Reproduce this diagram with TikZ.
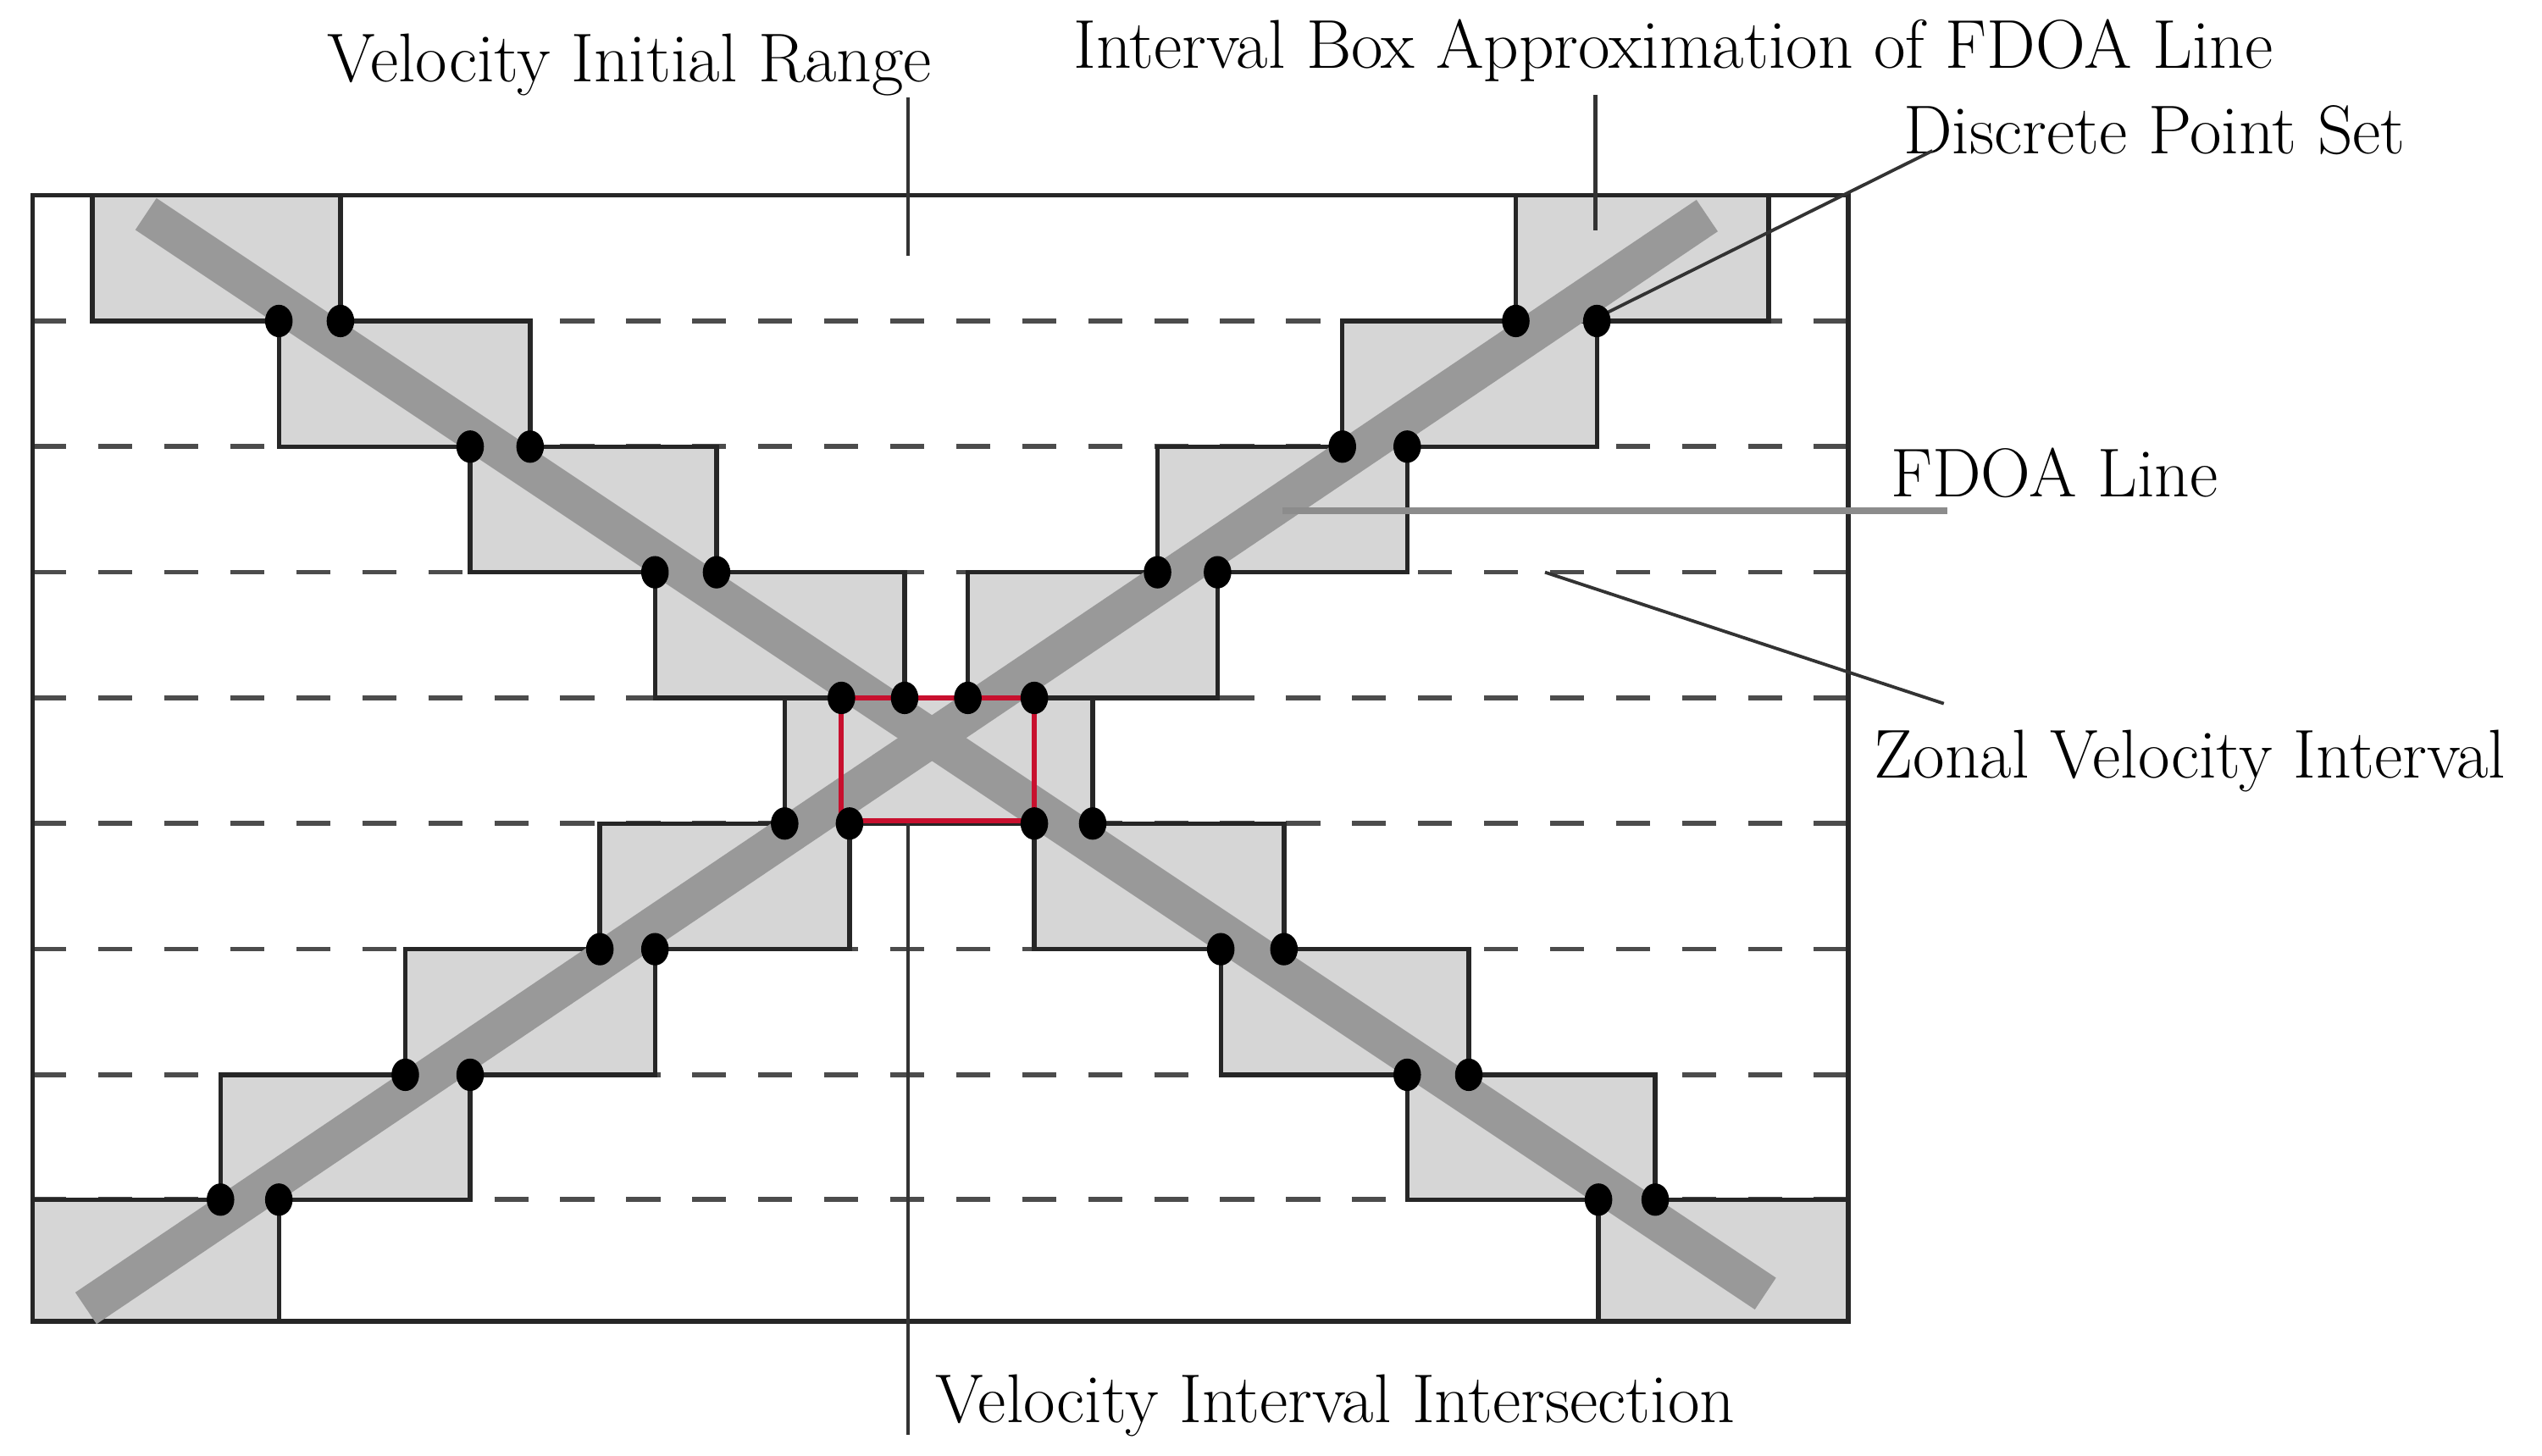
\documentclass[tikz,border=0pt]{standalone}
\usepackage{fontspec}
\definecolor{boxfill}{HTML}{D6D6D6}
\definecolor{bandgray}{HTML}{999999}
\definecolor{redbox}{HTML}{C8102E}
\begin{document}
\begin{tikzpicture}[x=1pt, y={(0pt,-1pt)},
  boxst/.style={fill=boxfill, draw=black!85, line width=2.8pt},
  dashst/.style={draw=black!70, line width=3pt, dash pattern=on 21pt off 19.7pt},
  framest/.style={draw=black!85, line width=2.9pt},
  bandst/.style={draw=bandgray, line width=23.5pt, line cap=butt},
  leader/.style={draw=black!80, line width=2.3pt},
  thinleader/.style={draw=black!80, line width=2pt},
  grayleader/.style={draw=black!45, line width=4.5pt},
  redst/.style={draw=redbox, line width=3.2pt},
  dotst/.style={fill=black},
  lbl/.style={font=\fontsize{42.6pt}{50pt}\selectfont, inner sep=0pt, anchor=base west}
]
\useasboundingbox (0,0) rectangle (1568,898);
\fill[white] (0,0) rectangle (1568,898);

% zonal velocity interval boundaries (dashed)
\foreach \yy in {198,275.5,353,430.5,508,585.5,663,740}
  \draw[dashst] (20,\yy) -- (1140,\yy);

% interval boxes, descending FDOA line
\foreach \ya/\yb/\l/\r in {120.5/198/57/210, 198/275.5/172/327, 275.5/353/290/442,
    353/430.5/404/558, 430.5/508/519/674, 508/585.5/638/792, 585.5/663/753/906,
    663/740/868/1021, 740/815/986/1140}
  \filldraw[boxst] (\l,\ya) rectangle (\r,\yb);

% interval boxes, ascending FDOA line
\foreach \ya/\yb/\l/\r in {120.5/198/935/1091, 198/275.5/828/985, 275.5/353/714/868,
    353/430.5/597/751, 430.5/508/484/638, 508/585.5/370/524, 585.5/663/250/404,
    663/740/136/290, 740/815/20/172}
  \filldraw[boxst] (\l,\ya) rectangle (\r,\yb);

% velocity initial range (frame)
\draw[framest] (20,120.5) rectangle (1140,815);

% FDOA lines
\coordinate (dA) at (90,132);
\coordinate (dB) at (1089,798);
\coordinate (aA) at (53,807);
\coordinate (aB) at (1053,133);
\draw[bandst] (dA) -- (dB);
\draw[bandst] (aA) -- (aB);

% velocity interval intersection
\draw[redst] (519,430.5) rectangle (638,506.5);

% labels
\node[lbl] (lblRange) at (202,50.2) {Velocity Initial Range};
\node[lbl] (lblBox) at (662,41.8) {Interval Box Approximation of FDOA Line};
\node[lbl] (lblPts) at (1174,95) {Discrete Point Set};
\node[lbl] (lblLine) at (1166,306.6) {FDOA Line};
\node[lbl] (lblZonal) at (1156,480) {Zonal Velocity Interval};
\node[lbl] (lblInter) at (577,877.7) {Velocity Interval Intersection};

% leader lines
\coordinate (rangeA) at (560,60);   \coordinate (rangeB) at (560,158);
\coordinate (boxA) at (984,58.5);   \coordinate (boxB) at (984,142);
\coordinate (ptsA) at (1192,93);    \coordinate (ptsB) at (985,196);
\coordinate (lineA) at (1201,315);  \coordinate (lineB) at (791,315);
\coordinate (zonA) at (1199,434);   \coordinate (zonB) at (953,353);
\coordinate (intA) at (560,885);    \coordinate (intB) at (560,508);
\draw[leader] (rangeA) -- (rangeB);
\draw[leader] (boxA) -- (boxB);
\draw[thinleader] (ptsA) -- (ptsB);
\draw[grayleader] (lineA) -- (lineB);
\draw[thinleader] (zonA) -- (zonB);
\draw[leader] (intA) -- (intB);

% discrete point set
\foreach \yy/\p/\q in {198/172/210, 275.5/290/327, 353/404/442, 430.5/519/558,
    508/638/674, 585.5/753/792, 663/868/906, 740/986/1021} {
  \fill[dotst] (\p,\yy) ellipse [x radius=8.5pt, y radius=10pt];
  \fill[dotst] (\q,\yy) ellipse [x radius=8.5pt, y radius=10pt];
}
\foreach \yy/\p/\q in {198/935/985, 275.5/828/868, 353/714/751, 430.5/597/638,
    508/484/524, 585.5/370/404, 663/250/290, 740/136/172} {
  \fill[dotst] (\p,\yy) ellipse [x radius=8.5pt, y radius=10pt];
  \fill[dotst] (\q,\yy) ellipse [x radius=8.5pt, y radius=10pt];
}
\end{tikzpicture}
\end{document}
